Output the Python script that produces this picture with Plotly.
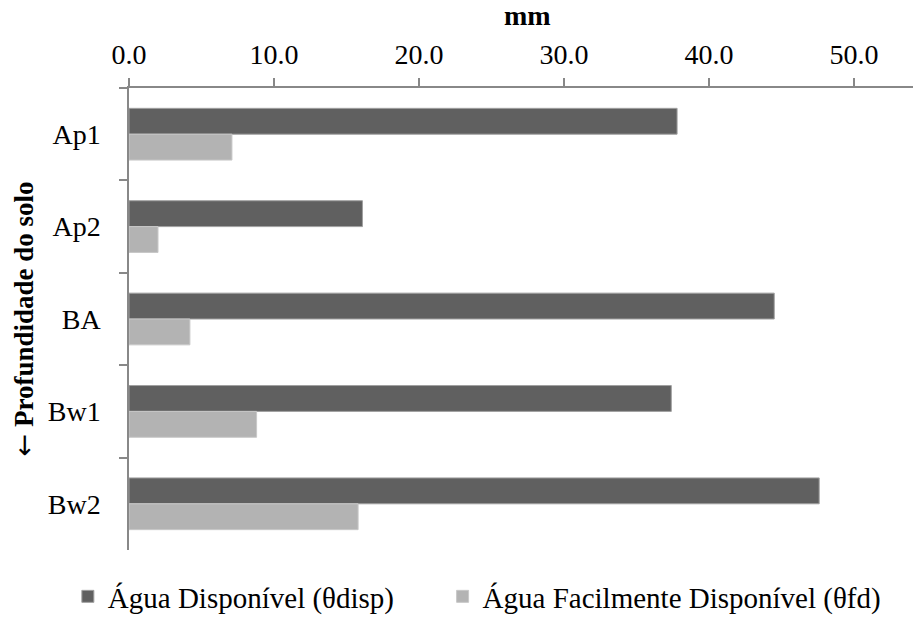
import plotly.graph_objects as go

categories = ["Ap1", "Ap2", "BA", "Bw1", "Bw2"]
agua_disponivel = [37.8, 16.1, 44.5, 37.4, 47.6]
agua_facil = [7.1, 2.0, 4.2, 8.8, 15.8]
x_ticks = [0, 10, 20, 30, 40, 50]
x_tick_labels = ["0.0", "10.0", "20.0", "30.0", "40.0", "50.0"]

FONT = "Liberation Serif, Times New Roman, serif"

fig = go.Figure()
fig.add_trace(go.Bar(
    y=categories, x=agua_disponivel, orientation="h",
    name="Água Disponível (θdisp)",
    marker=dict(color="#606060", line=dict(color="#a0a0a0", width=1)),
    legend="legend",
))
fig.add_trace(go.Bar(
    y=categories, x=agua_facil, orientation="h",
    name="Água Facilmente Disponível (θfd)",
    marker=dict(color="#b3b3b3", line=dict(color="#c8c8c8", width=1)),
    legend="legend2",
))

legend_style = dict(
    orientation="h", xanchor="left", yanchor="middle",
    font=dict(family=FONT, size=29, color="black"),
    bgcolor="rgba(0,0,0,0)",
)

fig.update_layout(
    width=913, height=622,
    margin=dict(l=129, r=0, t=88, b=71),
    paper_bgcolor="white", plot_bgcolor="white",
    barmode="group", bargap=0.44, bargroupgap=0,
    font=dict(family=FONT, size=28, color="black"),
    showlegend=True,
    legend=dict(x=-0.078, y=-0.1, **legend_style),
    legend2=dict(x=0.40, y=-0.1, **legend_style),
    annotations=[dict(
        text="<b>mm</b>", x=27.45, xref="x", y=1, yref="paper",
        yshift=73, showarrow=False, font=dict(family=FONT, size=28),
        xanchor="center", yanchor="middle",
    )],
)
fig.update_xaxes(
    side="top", range=[0, 54.07],
    tickvals=x_ticks, ticktext=x_tick_labels,
    showgrid=False, zeroline=False,
    showline=True, linecolor="#888888", linewidth=1.5,
    ticks="outside", ticklen=8, tickcolor="#888888", tickwidth=1.5,
    ticklabelstandoff=3,
    tickfont=dict(family=FONT, size=28),
)
fig.update_yaxes(
    autorange="reversed",
    showgrid=False, zeroline=False,
    showline=True, linecolor="#888888", linewidth=1.5,
    ticks="outside", ticklen=8, tickcolor="#888888", tickwidth=1.5,
    tickson="boundaries",
    ticklabelstandoff=21,
    tickfont=dict(family=FONT, size=28),
    title=dict(
        text="<span style='font-family:DejaVu Sans;font-weight:normal'>←</span><b> Profundidade do solo</b>",
        font=dict(family=FONT, size=27), standoff=6,
    ),
)

fig.write_html("out.html")
